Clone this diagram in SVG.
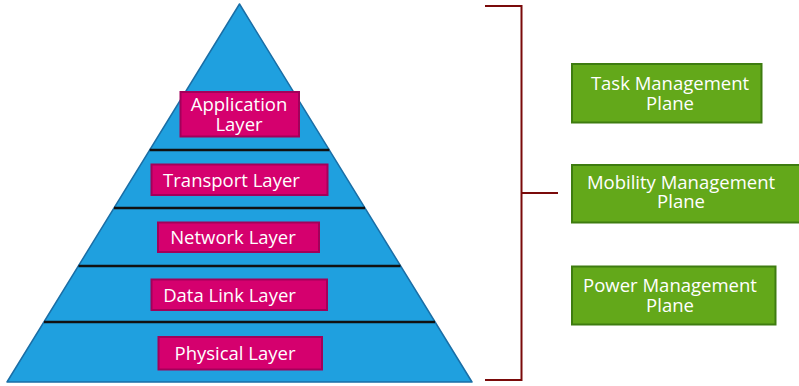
<svg xmlns="http://www.w3.org/2000/svg" width="799" height="386" viewBox="0 0 799 386">
  <style>
    .layer rect { fill: #D5006E; stroke: #A3005A; stroke-width: 2; }
    .plane rect { fill: #63A81A; stroke: #3E7C10; stroke-width: 2; }
    text { font-family: "Open Sans", "Noto Sans", sans-serif; font-size: 18.5px; fill: #FFFFFF; text-anchor: middle; }
    .divider { stroke: #111111; stroke-width: 2.5; }
    .bracket { fill: none; stroke: #7A0A0A; stroke-width: 2; }
  </style>

  <!-- pyramid body -->
  <g id="pyramid">
    <polygon points="239.5,4 472,382 7,382" fill="#1FA0DF" stroke="#1A6EA6" stroke-width="1.5" stroke-linejoin="round"/>
    <line class="divider" x1="149.7" y1="150" x2="329.3" y2="150"/>
    <line class="divider" x1="114" y1="208" x2="365" y2="208"/>
    <line class="divider" x1="78.5" y1="266" x2="400.5" y2="266"/>
    <line class="divider" x1="44" y1="322" x2="435" y2="322"/>
  </g>

  <!-- protocol layers -->
  <g id="application" class="layer">
    <rect x="180.5" y="92" width="118.5" height="44.5"/>
    <text x="239" y="111">Application</text>
    <text x="239" y="131">Layer</text>
  </g>
  <g id="transport" class="layer">
    <rect x="151.5" y="164.5" width="176" height="30.5"/>
    <text x="231.5" y="187">Transport Layer</text>
  </g>
  <g id="network" class="layer">
    <rect x="158" y="222.5" width="161" height="29.5"/>
    <text x="233" y="243.5">Network Layer</text>
  </g>
  <g id="datalink" class="layer">
    <rect x="151.5" y="279.5" width="175.5" height="30.5"/>
    <text x="229.5" y="301.5">Data Link Layer</text>
  </g>
  <g id="physical" class="layer">
    <rect x="158.5" y="337" width="163.5" height="32.5"/>
    <text x="235" y="360">Physical Layer</text>
  </g>

  <!-- bracket joining the stack to the management planes -->
  <g id="connectors">
    <path class="bracket" d="M485,6 H521.5 V380 H485"/>
    <line class="bracket" x1="521.5" y1="193" x2="558" y2="193"/>
  </g>

  <!-- management planes -->
  <g id="task-plane" class="plane">
    <rect x="572" y="64" width="189.5" height="58.5"/>
    <text x="670" y="90">Task Management</text>
    <text x="670" y="110">Plane</text>
  </g>
  <g id="mobility-plane" class="plane">
    <rect x="572" y="165" width="228" height="57.5"/>
    <text x="681" y="189">Mobility Management</text>
    <text x="681" y="207.5">Plane</text>
  </g>
  <g id="power-plane" class="plane">
    <rect x="572" y="266.5" width="203.5" height="58"/>
    <text x="670" y="292">Power Management</text>
    <text x="670" y="312">Plane</text>
  </g>
</svg>
